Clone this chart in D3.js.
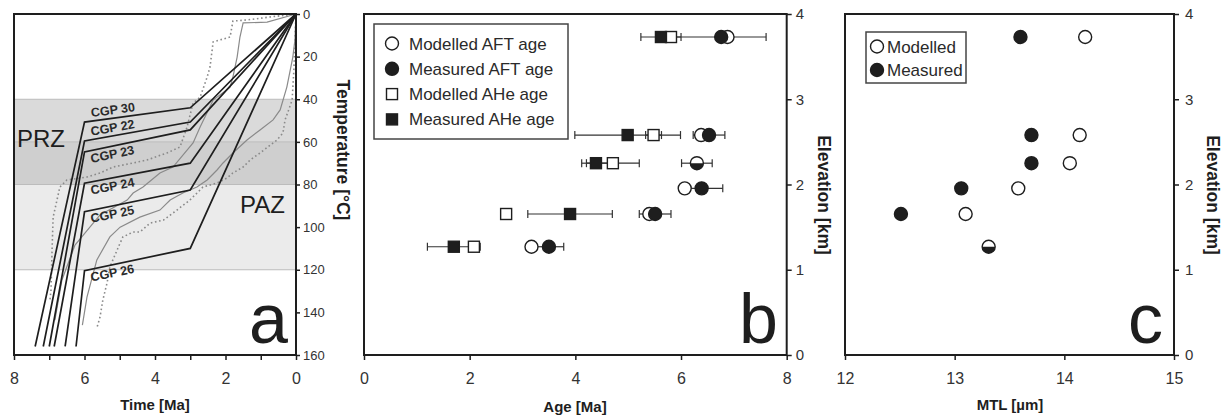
<!DOCTYPE html>
<html><head><meta charset="utf-8">
<script src="https://cdn.jsdelivr.net/npm/d3@7"></script>
<style>
body{margin:0;background:#fff}
svg{display:block;font-family:Arial,"Liberation Sans",sans-serif}
</style>
</head><body>
<svg id="fig" width="1228" height="419"></svg>
<script>
// ---------- Panel a: time–temperature paths ----------
const timeTicks = [8, 7, 6, 5, 4, 3, 2, 1, 0];
const timeLabels = [8, 6, 4, 2, 0];
const tempTicks = [0, 20, 40, 60, 80, 100, 120, 140, 160];
const przRange = [40, 80];   // partial retention zone (°C)
const pazRange = [60, 120];  // partial annealing zone (°C)

const cgpNames = ["CGP 30", "CGP 22", "CGP 23", "CGP 24", "CGP 25", "CGP 26"];
const cgpLabelSide = [-1, -1, 1, 1, 1, 1];   // -1 above the path, 1 below
const cgpPaths = [
  [[7.40, 156], [6.0, 50.7], [3.0, 44.0], [0, 0]],
  [[7.17, 156], [6.0, 59.6], [3.0, 50.7], [0, 0]],
  [[7.00, 156], [6.0, 64.7], [3.0, 54.4], [0, 0]],
  [[6.86, 156], [6.0, 79.4], [3.0, 70.0], [0, 0]],
  [[6.55, 156], [6.0, 92.8], [3.0, 82.6], [0, 0]],
  [[6.24, 156], [6.0, 120.4], [3.0, 110.0], [0, 0]]
];
// good-fit envelope (solid grey) and acceptable-fit envelope (dotted grey)
const goodFitUpper = [[0,0],[0.82,3.8],[1.50,4.2],[1.59,10.8],[1.67,20.2],[1.79,29.6],[1.87,34.3],[2.35,40.4],[2.72,53.0],[2.92,60.5],[3.49,71.8],[3.86,74.6],[4.34,81.2],[4.62,84.0],[4.79,87.3],[5.56,94.3],[6.27,108.4],[6.64,124.8],[6.84,143.6]];
const goodFitLower = [[0,0],[0.03,12.2],[0.09,20.2],[0.26,34.3],[0.45,45.0],[0.65,49.7],[1.02,54.4],[1.39,59.1],[1.79,65.2],[2.07,69.9],[2.24,73.2],[2.52,77.9],[2.81,81.2],[3.21,84.0],[3.57,87.3],[3.86,92.0],[4.43,95.3],[4.99,100.0],[5.28,104.6],[5.65,115.4],[5.93,132.8],[6.06,146.0]];
const accFitUpper = [[0,0],[0.74,1.4],[1.39,2.8],[1.79,3.3],[1.87,10.8],[2.35,13.1],[2.44,24.9],[2.52,29.6],[2.72,39.0],[2.92,41.8],[3.09,53.0],[3.29,62.4],[3.66,65.2],[4.23,68.5],[4.62,69.9],[5.19,71.8],[5.56,74.6],[5.93,76.5],[6.50,77.9],[6.70,81.2],[6.78,87.3],[6.89,95.3],[6.92,110.7],[6.95,129.5],[6.98,134.2]];
const accFitLower = [[0,0],[0.03,12.2],[0.06,26.3],[0.11,40.4],[0.23,46.0],[0.31,49.7],[0.37,55.8],[0.54,59.1],[1.02,65.2],[1.30,68.5],[1.50,71.8],[1.79,74.6],[1.96,77.0],[2.24,79.3],[2.64,81.2],[3.01,87.3],[3.38,92.0],[3.76,96.7],[4.14,98.1],[4.43,102.3],[4.62,102.3],[4.91,104.6],[4.99,107.5],[5.28,118.7],[5.36,126.2],[5.48,134.2],[5.56,142.2],[5.65,147.3]];

// ---------- Panel b: age–elevation ----------
const ageTicks = [0, 2, 4, 6, 8];
const elevTicks = [0, 1, 2, 3, 4];
const sampleElev = [3.73, 2.58, 2.25, 1.955, 1.654, 1.27];
const aftModelled = [6.88, 6.38, 6.30, 6.07, 5.40, 3.17];
const aftMeasured = [6.76, 6.53, 6.30, 6.39, 5.51, 3.50];
const aftError = [0.85, 0.30, 0.29, 0.40, 0.30, 0.28];
const aheModelled = [5.81, 5.48, 4.71, null, 2.69, 2.08];
const aheModelledError = [null, 0.15, 0.50, null, null, null];
const aheMeasured = [5.62, 4.99, 4.39, null, 3.90, 1.70];
const aheMeasuredError = [0.38, 1.00, 0.27, null, 0.80, 0.50];
const legendB = ["Modelled AFT age", "Measured AFT age", "Modelled AHe age", "Measured AHe age"];

// ---------- Panel c: MTL–elevation ----------
const mtlTicks = [12, 13, 14, 15];
const mtlModelled = [14.19, 14.14, 14.05, 13.58, 13.10, 13.31];
const mtlMeasured = [13.60, 13.70, 13.70, 13.06, 12.51, 13.31];
const legendC = ["Modelled", "Measured"];

const INK = "#1e1e1e";
const intFmt = d3.format("d");
const svg = d3.select("#fig");
svg.append("rect").attr("width", 1228).attr("height", 419).attr("fill", "#fff");

const plotTop = 14, plotBottom = 355;

function styleAxis(g, size) {
  g.attr("font-family", null).attr("font-size", size);
  g.select(".domain").remove();
  g.selectAll(".tick line").attr("stroke", INK).attr("stroke-width", 1.5);
  g.selectAll(".tick text").attr("fill", "#333");
}
function frame(x0, x1) {
  svg.append("rect").attr("x", x0).attr("y", plotTop).attr("width", x1 - x0).attr("height", plotBottom - plotTop)
    .attr("fill", "none").attr("stroke", INK).attr("stroke-width", 2);
}
function vTitle(x, y, text) {
  svg.append("text").attr("transform", `translate(${x},${y}) rotate(90)`)
    .attr("text-anchor", "middle").attr("font-size", 17.5).attr("font-weight", "bold")
    .attr("fill", INK).text(text);
}
function hTitle(x, y, text) {
  svg.append("text").attr("x", x).attr("y", y).attr("text-anchor", "middle")
    .attr("font-size", 15).attr("font-weight", "bold").attr("fill", INK).text(text);
}
function bigLetter(x, text) {
  svg.append("text").attr("x", x).attr("y", 343).attr("text-anchor", "end")
    .attr("font-size", 70).attr("fill", INK).text(text);
}

// ================= Panel a =================
const xa = d3.scaleLinear().domain([8, 0]).range([14, 296]);
const ya = d3.scaleLinear().domain([0, 160]).range([plotTop, plotBottom]);
const ga = svg.append("g");

// shaded zones
ga.append("rect").attr("x", xa(8)).attr("width", xa(0) - xa(8))
  .attr("y", ya(przRange[0])).attr("height", ya(pazRange[0]) - ya(przRange[0])).attr("fill", "#dadada");
ga.append("rect").attr("x", xa(8)).attr("width", xa(0) - xa(8))
  .attr("y", ya(pazRange[0])).attr("height", ya(przRange[1]) - ya(pazRange[0])).attr("fill", "#cfcfcf");
ga.append("rect").attr("x", xa(8)).attr("width", xa(0) - xa(8))
  .attr("y", ya(przRange[1])).attr("height", ya(pazRange[1]) - ya(przRange[1])).attr("fill", "#ebebeb");
[przRange[0], pazRange[0], przRange[1], pazRange[1]].forEach(t => {
  ga.append("line").attr("x1", xa(8)).attr("x2", xa(0)).attr("y1", ya(t)).attr("y2", ya(t))
    .attr("stroke", "#bcbcbc").attr("stroke-width", 1);
});

const lineA = d3.line().x(d => xa(d[0])).y(d => ya(d[1]));
[accFitUpper, accFitLower].forEach(p => {
  ga.append("path").attr("d", lineA(p)).attr("fill", "none").attr("stroke", "#8a8a8a")
    .attr("stroke-width", 1.6).attr("stroke-dasharray", "1.6,2.6");
});
[goodFitUpper, goodFitLower].forEach(p => {
  ga.append("path").attr("d", lineA(p)).attr("fill", "none").attr("stroke", "#8a8a8a").attr("stroke-width", 1.2);
});
cgpPaths.forEach((p, i) => {
  ga.append("path").attr("d", lineA(p)).attr("fill", "none").attr("stroke", INK).attr("stroke-width", 1.7);
  const a = p[1], b = p[2];
  const ang = Math.atan2(ya(b[1]) - ya(a[1]), xa(b[0]) - xa(a[0])) * 180 / Math.PI;
  const t = 5.8, T = a[1] + (b[1] - a[1]) * (a[0] - t) / (a[0] - b[0]);
  const off = cgpLabelSide[i] < 0 ? -4 : 12.5;
  ga.append("text").attr("transform", `translate(${xa(t)},${ya(T) + off}) rotate(${ang})`)
    .attr("font-size", 12.5).attr("font-weight", "bold").attr("fill", "#2a2a2a").text(cgpNames[i]);
});
ga.append("text").attr("x", 17).attr("y", 147).attr("font-size", 24).attr("fill", INK).text("PRZ");
ga.append("text").attr("x", 240).attr("y", 213).attr("font-size", 24).attr("fill", INK).text("PAZ");

frame(14, 296);
svg.append("g").attr("transform", "translate(296,0)")
  .call(d3.axisRight(ya).tickValues(tempTicks).tickSize(4).tickPadding(3).tickFormat(intFmt))
  .call(g => styleAxis(g, 13));
svg.append("g").attr("transform", `translate(0,${plotBottom})`)
  .call(d3.axisBottom(xa).tickValues(timeTicks).tickSize(5).tickPadding(13)
    .tickFormat(d => timeLabels.includes(d) ? intFmt(d) : ""))
  .call(g => styleAxis(g, 16));
hTitle(155, 410, "Time [Ma]");
vTitle(337, 150, "Temperature [°C]");
bigLetter(288, "a");

// ================= Panel b =================
const xb = d3.scaleLinear().domain([0, 8]).range([364, 786.7]);
const yb = d3.scaleLinear().domain([0, 4]).range([plotBottom, plotTop]);
const gb = svg.append("g");
const R = 6.5, S = 11;

function errBar(g, xs, y, c, e) {
  const x0 = xs(c - e), x1 = xs(c + e);
  g.append("line").attr("x1", x0).attr("x2", x1).attr("y1", y).attr("y2", y).attr("stroke", "#333").attr("stroke-width", 1.2);
  [x0, x1].forEach(x => g.append("line").attr("x1", x).attr("x2", x).attr("y1", y - 4).attr("y2", y + 4)
    .attr("stroke", "#333").attr("stroke-width", 1.2));
}
function openCircle(g, x, y) {
  g.append("circle").attr("cx", x).attr("cy", y).attr("r", R).attr("fill", "#fff").attr("stroke", INK).attr("stroke-width", 1.4);
}
function filledCircle(g, x, y) {
  g.append("circle").attr("cx", x).attr("cy", y).attr("r", R).attr("fill", INK).attr("stroke", INK).attr("stroke-width", 1.4);
}
function halfCircle(g, x, y) {
  openCircle(g, x, y);
  g.append("path").attr("d", `M${x - R},${y} A${R},${R} 0 0 0 ${x + R},${y} Z`).attr("fill", INK);
}
function openSquare(g, x, y) {
  g.append("rect").attr("x", x - S / 2).attr("y", y - S / 2).attr("width", S).attr("height", S)
    .attr("fill", "#fff").attr("stroke", INK).attr("stroke-width", 1.4);
}
function filledSquare(g, x, y) {
  g.append("rect").attr("x", x - S / 2).attr("y", y - S / 2).attr("width", S).attr("height", S)
    .attr("fill", INK).attr("stroke", INK).attr("stroke-width", 1.4);
}

sampleElev.forEach((e, i) => {
  const y = yb(e);
  errBar(gb, xb, y, aftMeasured[i], aftError[i]);
  if (aheMeasured[i] != null) errBar(gb, xb, y, aheMeasured[i], aheMeasuredError[i]);
  if (aheModelledError[i] != null) errBar(gb, xb, y, aheModelled[i], aheModelledError[i]);
});
sampleElev.forEach((e, i) => {
  const y = yb(e);
  if (aheModelled[i] != null) openSquare(gb, xb(aheModelled[i]), y);
  if (aheMeasured[i] != null) filledSquare(gb, xb(aheMeasured[i]), y);
  if (Math.abs(aftModelled[i] - aftMeasured[i]) < 0.01) {
    halfCircle(gb, xb(aftMeasured[i]), y);
  } else {
    openCircle(gb, xb(aftModelled[i]), y);
    filledCircle(gb, xb(aftMeasured[i]), y);
  }
});

// legend
const lgB = svg.append("g");
lgB.append("rect").attr("x", 374).attr("y", 24).attr("width", 194).attr("height", 115)
  .attr("fill", "#fff").attr("stroke", "#444").attr("stroke-width", 1.5);
const lgMarkB = [openCircle, filledCircle, openSquare, filledSquare];
legendB.forEach((t, i) => {
  const y = 43.5 + i * 25.3;
  lgMarkB[i](lgB, 392, y);
  lgB.append("text").attr("x", 409).attr("y", y + 6).attr("font-size", 17).attr("fill", "#2a2a2a").text(t);
});

frame(364, 786.7);
svg.append("g").attr("transform", "translate(786.7,0)")
  .call(d3.axisRight(yb).tickValues(elevTicks).tickSize(5).tickPadding(4).tickFormat(intFmt))
  .call(g => styleAxis(g, 15));
svg.append("g").attr("transform", `translate(0,${plotBottom})`)
  .call(d3.axisBottom(xb).tickValues(ageTicks).tickSize(5).tickPadding(13).tickFormat(intFmt))
  .call(g => styleAxis(g, 16));
hTitle(575, 412, "Age [Ma]");
vTitle(818, 195, "Elevation [km]");
bigLetter(778, "b");

// ================= Panel c =================
const xc = d3.scaleLinear().domain([12, 15]).range([845, 1174]);
const yc = d3.scaleLinear().domain([0, 4]).range([plotBottom, plotTop]);
const gc = svg.append("g");
sampleElev.forEach((e, i) => {
  const y = yc(e);
  if (Math.abs(mtlModelled[i] - mtlMeasured[i]) < 0.01) {
    halfCircle(gc, xc(mtlMeasured[i]), y);
  } else {
    openCircle(gc, xc(mtlModelled[i]), y);
    filledCircle(gc, xc(mtlMeasured[i]), y);
  }
});
const lgC = svg.append("g");
lgC.append("rect").attr("x", 866).attr("y", 32).attr("width", 100).attr("height", 51)
  .attr("fill", "#fff").attr("stroke", "#444").attr("stroke-width", 1.5);
[openCircle, filledCircle].forEach((f, i) => {
  const y = 46.5 + i * 23.5;
  f(lgC, 877, y);
  lgC.append("text").attr("x", 887).attr("y", y + 6).attr("font-size", 17).attr("fill", "#2a2a2a").text(legendC[i]);
});

frame(845, 1174);
svg.append("g").attr("transform", "translate(1174,0)")
  .call(d3.axisRight(yc).tickValues(elevTicks).tickSize(5).tickPadding(6).tickFormat(intFmt))
  .call(g => styleAxis(g, 15));
svg.append("g").attr("transform", `translate(0,${plotBottom})`)
  .call(d3.axisBottom(xc).tickValues(mtlTicks).tickSize(5).tickPadding(13).tickFormat(intFmt))
  .call(g => styleAxis(g, 16));
hTitle(1010, 410, "MTL [µm]");
vTitle(1207, 195, "Elevation [km]");
bigLetter(1163, "c");
</script>
</body></html>
